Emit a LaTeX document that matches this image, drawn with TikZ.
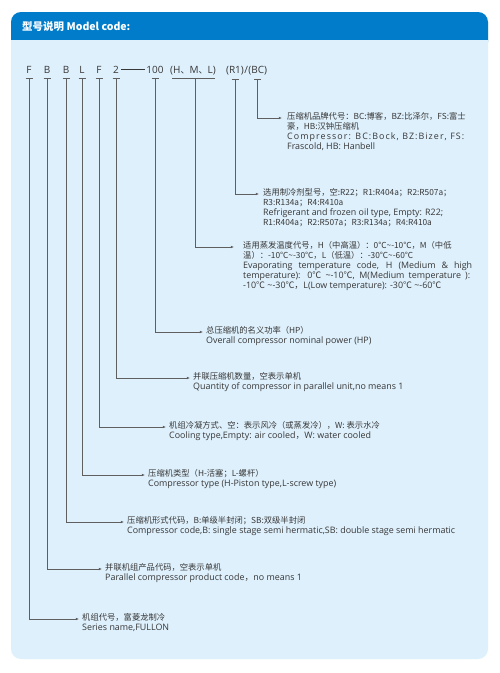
\documentclass[tikz,border=0pt]{standalone}
\usepackage{fontspec}
\setmainfont{Open Sans}
\newfontfamily\cjk{Noto Sans CJK SC}
\usepackage{xcolor}
\usepackage{tikz}
\usetikzlibrary{arrows.meta,positioning}

\definecolor{headblue}{RGB}{0,124,203}
\definecolor{panelblue}{RGB}{222,240,252}
\definecolor{leadgray}{RGB}{95,95,95}
\definecolor{textgray}{RGB}{55,55,55}
\newcommand{\tld}{\textasciitilde}
\newcommand{\dg}{{\cjk ℃}}
\newcommand{\zh}[1]{{\cjk\fontsize{8.3}{10}\selectfont #1}}

\begin{document}
\begin{tikzpicture}[x=1pt,y=-1pt,
    code/.style={inner sep=0pt, anchor=base, text=textgray, font=\fontsize{10}{12}\selectfont},
    desc/.style={inner sep=0pt, anchor=north west, align=left, text=textgray, font=\fontsize{8.9}{10}\selectfont},
    lead/.style={draw=leadgray, line width=0.6pt, -{Latex[length=3.2pt,width=2.6pt]}},
    bar/.style={draw=leadgray, line width=0.6pt}]
    \useasboundingbox (0,0) rectangle (499,673);
    \fill[white] (0,0) rectangle (499,673);

    % Panel and header
    \fill[panelblue, rounded corners=10pt] (11,12) rectangle (488,659);
    \fill[headblue, rounded corners=10pt] (11,12) rectangle (488,52);
    \fill[panelblue] (11,40) rectangle (488,60);
    \node[anchor=west, text=white, inner sep=0pt, font=\cjk\bfseries\fontsize{10.5}{12}\selectfont] (title) at (22,26.5) {型号说明 Model code:};

    % Model code letters
    \node[code] (cF) at (29,73) {F};
    \node[code] (cB) at (47,73) {B};
    \node[code] (cBB) at (66,73) {B};
    \node[code] (cL) at (82,73) {L};
    \node[code] (cFF) at (99,73) {F};
    \node[code] (cN) at (116,73) {2};
    \draw[textgray, line width=0.6pt] (121,69.3) -- (145,69.3);
    \node[code] (cHP) at (155,73) {100};
    \node[code] (cT) at (193,73) {(H{\cjk\fontsize{9}{10}\selectfont 、}M{\cjk\fontsize{9}{10}\selectfont 、}L)};
    \node[code] (cR) at (235,73) {(R1)};
    \node[code, anchor=base west] (slash) at (cR.base east) {/};
    \node[code, anchor=base west] (cBC) at (slash.base east) {(BC)};

    % Small bars under the letters
    \foreach \n in {cF,cB,cBB,cL,cFF,cN,cHP,cR,cBC}
        \draw[bar] ([xshift=-3.5pt,yshift=-5pt]\n.south) -- ([xshift=3.5pt,yshift=-5pt]\n.south);
    \draw[bar] (172,78) -- (215,78);
    \coordinate (cTm) at (195,78);

    % Descriptions
    \node[desc] (dBC) at (287,112.5) {\zh{压缩机品牌代号：BC:博客，BZ:比泽尔，FS:富士}\\
        \zh{豪，HB:汉钟压缩机}\\
        {\addfontfeatures{LetterSpace=12}Compressor: BC:Bock, BZ:Bizer, FS:}\\
        Frascold, HB: Hanbell};
    \node[desc] (dR) at (263,188.5) {\zh{选用制冷剂型号，空:R22；R1:R404a；R2:R507a；}\\
        \zh{R3:R134a；R4:R410a}\\
        Refrigerant and frozen oil type, Empty: R22;\\
        \zh{R1:R404a；R2:R507a；R3:R134a；R4:R410a}};
    \node[desc] (dT) at (243,241.5) {\zh{适用蒸发温度代号，H（中高温）：0℃\tld-10℃，M（中低}\\
        \zh{温）：-10℃\tld-30℃，L（低温）：-30℃\tld-60℃}\\
        \makebox[229pt][s]{Evaporating temperature code, H (Medium \& high}\\
        \makebox[227pt][s]{temperature): 0\dg{} \tld-10\dg, M(Medium temperature ):}\\
        -10\dg{} \tld-30\dg{\cjk ，}L(Low temperature): -30\dg{} \tld-60\dg};
    \node[desc] (dHP) at (206,326.5) {\zh{总压缩机的名义功率（HP）}\\
        Overall compressor nominal power (HP)};
    \node[desc] (dN) at (193,372.5) {\zh{并联压缩机数量，空表示单机}\\
        Quantity of compressor in parallel unit,no means 1};
    \node[desc] (dFF) at (169,421.5) {\zh{机组冷凝方式、空：表示风冷（或蒸发冷），W: 表示水冷}\\
        Cooling type,Empty: air cooled{\cjk ，}W: water cooled};
    \node[desc] (dL) at (148,469.5) {\zh{压缩机类型（H-活塞；L-螺杆）}\\
        Compressor type (H-Piston type,L-screw type)};
    \node[desc] (dBB) at (127,516.5) {\zh{压缩机形式代码，B:单级半封闭；SB:双级半封闭}\\
        Compressor code,B: single stage semi hermatic,SB: double stage semi hermatic};
    \node[desc] (dB) at (105,563.5) {\zh{并联机组产品代码，空表示单机}\\
        Parallel compressor product code{\cjk ，}no means 1};
    \node[desc] (dF) at (82,613.5) {\zh{机组代号，富菱龙制冷}\\
        Series name,FULLON};

    % Leaders
    \draw[lead] ([yshift=-5pt]cBC.south) |- ([shift={(-5pt,-5.5pt)}]dBC.north west);
    \draw[lead] ([yshift=-5pt]cR.south) |- ([shift={(-4pt,-5.5pt)}]dR.north west);
    \draw[lead] (cTm) |- ([shift={(-9pt,-5.5pt)}]dT.north west);
    \draw[lead] ([yshift=-5pt]cHP.south) |- ([shift={(-3pt,-5.5pt)}]dHP.north west);
    \draw[lead] ([yshift=-5pt]cN.south) |- ([shift={(-3pt,-5.5pt)}]dN.north west);
    \draw[lead] ([yshift=-5pt]cFF.south) |- ([shift={(-3pt,-5.5pt)}]dFF.north west);
    \draw[lead] ([yshift=-5pt]cL.south) |- ([shift={(-3pt,-5.5pt)}]dL.north west);
    \draw[lead] ([yshift=-5pt]cBB.south) |- ([shift={(-3pt,-5.5pt)}]dBB.north west);
    \draw[lead] ([yshift=-5pt]cB.south) |- ([shift={(-3pt,-5.5pt)}]dB.north west);
    \draw[lead] ([yshift=-5pt]cF.south) |- ([shift={(-3pt,-5.5pt)}]dF.north west);
\end{tikzpicture}
\end{document}
